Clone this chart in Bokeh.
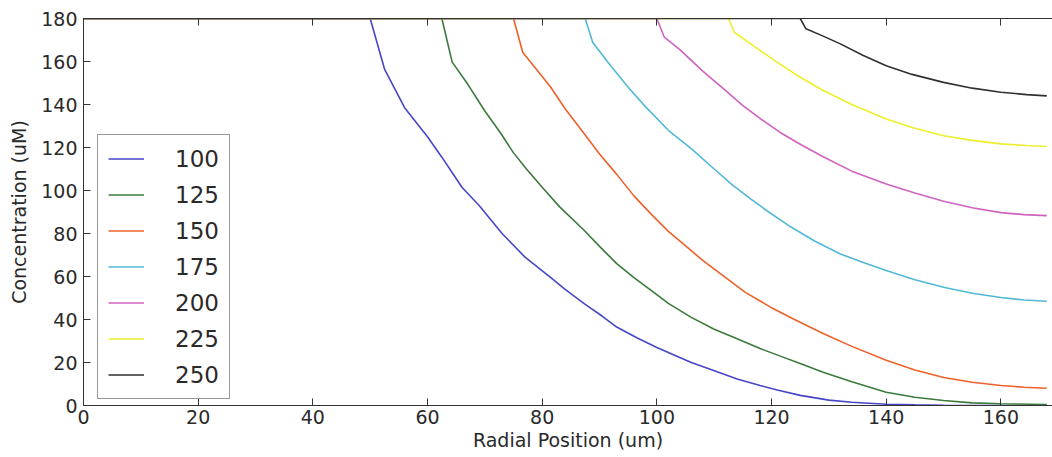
from bokeh.plotting import figure
from bokeh.models import Range1d, FixedTicker, LinearAxis, Legend, LegendItem, CustomJSTickFormatter
from bokeh.embed import file_html
from bokeh.resources import INLINE

# ---- data ----
series_names = ["100", "125", "150", "175", "200", "225", "250"]

x_100 = [0, 50, 52.5, 56, 60, 62.5, 66, 69, 73, 77, 81.5, 84, 87.5, 90.5, 93, 96.5, 100, 103, 106,
         111, 114, 118, 121, 125, 130, 134, 140, 145, 150, 160, 168]
y_100 = [180, 180, 156.5, 138.5, 125, 115.5, 101.5, 93, 80, 69, 59.5, 54, 47, 41.5, 36.5, 31.5, 27, 23.5, 20,
         15.2, 12.3, 9.3, 7.2, 4.7, 2.5, 1.5, 0.6, 0.3, 0.1, 0, 0]

x_125 = [0, 62.5, 64.3, 67, 70, 72.8, 75, 77.4, 80, 83, 87.3, 90, 93, 96, 99, 102, 106, 110, 114,
         118, 122, 125, 129, 134, 140, 145, 150, 155, 160, 168]
y_125 = [180, 180, 159.7, 149.5, 137, 126.5, 117.5, 109.5, 101.5, 92.5, 81.5, 74, 66, 59.5, 53.5, 47.5, 41, 35.5, 31,
         26.5, 22.5, 19.5, 15.5, 11, 6.2, 3.8, 2.3, 1.2, 0.8, 0.5]

x_150 = [0, 75, 76.6, 81.5, 84, 87.3, 90, 93, 96, 99, 102, 106, 108, 112, 115.5, 120, 124, 129,
         134, 140, 145, 150, 155, 160, 164, 168]
y_150 = [180, 180, 164.3, 148, 138, 126.5, 117, 107.5, 97.5, 89, 81, 72, 67.5, 59.5, 52.5, 45.5, 40, 33.5,
         27.5, 21, 16.5, 13, 10.8, 9.3, 8.5, 8]

x_175 = [0, 87.5, 88.8, 91.5, 95, 98, 102, 106, 110, 113, 116.4, 119.5, 123.4, 127.5, 132, 136,
         140, 145, 150, 155, 160, 164, 168]
y_175 = [180, 180, 169, 159.5, 148, 139, 128, 119.5, 110, 103, 96, 90, 83, 76.5, 70.5, 66.5,
         62.8, 58.5, 55, 52.2, 50.2, 49.1, 48.5]

x_200 = [0, 100, 101.3, 104, 108, 112, 115, 118, 121.5, 125, 129, 134, 140, 145, 150, 155, 160, 164, 168]
y_200 = [180, 180, 171.3, 165.5, 155.5, 146.5, 139.5, 133.5, 127, 121.5, 115.7, 109, 103, 98.8, 95, 92,
         89.7, 88.8, 88.3]

x_225 = [0, 112.5, 113.5, 117, 120.5, 124.5, 129, 134, 140, 144.5, 150, 155, 160, 164.5, 168]
y_225 = [180, 180, 173.6, 167, 160.5, 153.5, 146.5, 140, 133.3, 129.3, 125.5, 123.3, 121.7, 120.9, 120.5]

x_250 = [0, 125, 126, 129, 132, 136, 140, 144.5, 150, 155, 160, 164.5, 168]
y_250 = [180, 180, 175.2, 171.8, 168.2, 162.8, 158, 154, 150.3, 147.6, 145.7, 144.6, 144]

xs = [x_100, x_125, x_150, x_175, x_200, x_225, x_250]
ys = [y_100, y_125, y_150, y_175, y_200, y_225, y_250]
colors = ["#4646c8", "#3c7a3c", "#f0602a", "#52b8d8", "#d062c0", "#eeee2c", "#303030"]

x_ticks = [0, 20, 40, 60, 80, 100, 120, 140, 160]
y_ticks = [0, 20, 40, 60, 80, 100, 120, 140, 160, 180]

FONT = "DejaVu Sans"
TXT = "#2a2a2a"

p = figure(width=1052, height=457, x_range=Range1d(0, 169), y_range=Range1d(0, 180),
           output_backend="svg", toolbar_location=None,
           min_border_left=83, min_border_right=0, min_border_top=18, min_border_bottom=52,
           x_axis_label="Radial Position (um)", y_axis_label="Concentration (uM)")
p.outline_line_color = None
p.xgrid.visible = False
p.ygrid.visible = False
p.background_fill_color = "white"
p.border_fill_color = "white"

for ax, ticks in ((p.xaxis[0], x_ticks), (p.yaxis[0], y_ticks)):
    ax.ticker = FixedTicker(ticks=ticks)
    ax.major_tick_in = 7
    ax.major_tick_out = 0
    ax.minor_tick_in = 0
    ax.minor_tick_out = 0
    ax.axis_line_color = "#333333"
    ax.major_tick_line_color = "#333333"
    ax.major_label_text_font = FONT
    ax.major_label_text_font_size = "19px"
    ax.major_label_text_color = TXT
    ax.axis_label_text_font = FONT
    ax.axis_label_text_font_size = "19px"
    ax.axis_label_text_font_style = "normal"
    ax.axis_label_text_color = TXT

p.xaxis[0].major_label_standoff = 4
p.yaxis[0].major_label_standoff = 6
p.xaxis[0].axis_label_standoff = 2
p.yaxis[0].axis_label_standoff = 8

# top spine with inward ticks, no labels
top = LinearAxis(ticker=FixedTicker(ticks=x_ticks),
                 formatter=CustomJSTickFormatter(code="return '';"),
                 major_tick_in=7, major_tick_out=0, minor_tick_in=0, minor_tick_out=0,
                 major_label_standoff=0,
                 axis_line_color="#333333", major_tick_line_color="#333333")
p.add_layout(top, "above")

renderers = []
for x, y, c in zip(xs, ys, colors):
    r = p.line(x, y, line_color=c, line_width=1.6)
    renderers.append(r)

legend = Legend(items=[LegendItem(label=n, renderers=[r]) for n, r in zip(series_names, renderers)],
                location=(14, 6))
legend.label_text_font = FONT
legend.label_text_font_size = "23px"
legend.label_text_color = TXT
legend.glyph_width = 36
legend.glyph_height = 27
legend.label_height = 27
legend.label_standoff = 31
legend.spacing = 9
legend.padding = 10
legend.margin = 0
legend.border_line_color = "#333333"
legend.border_line_width = 1
legend.background_fill_alpha = 1
p.add_layout(legend, "center")

open("out.html", "w").write(file_html(p, INLINE))
